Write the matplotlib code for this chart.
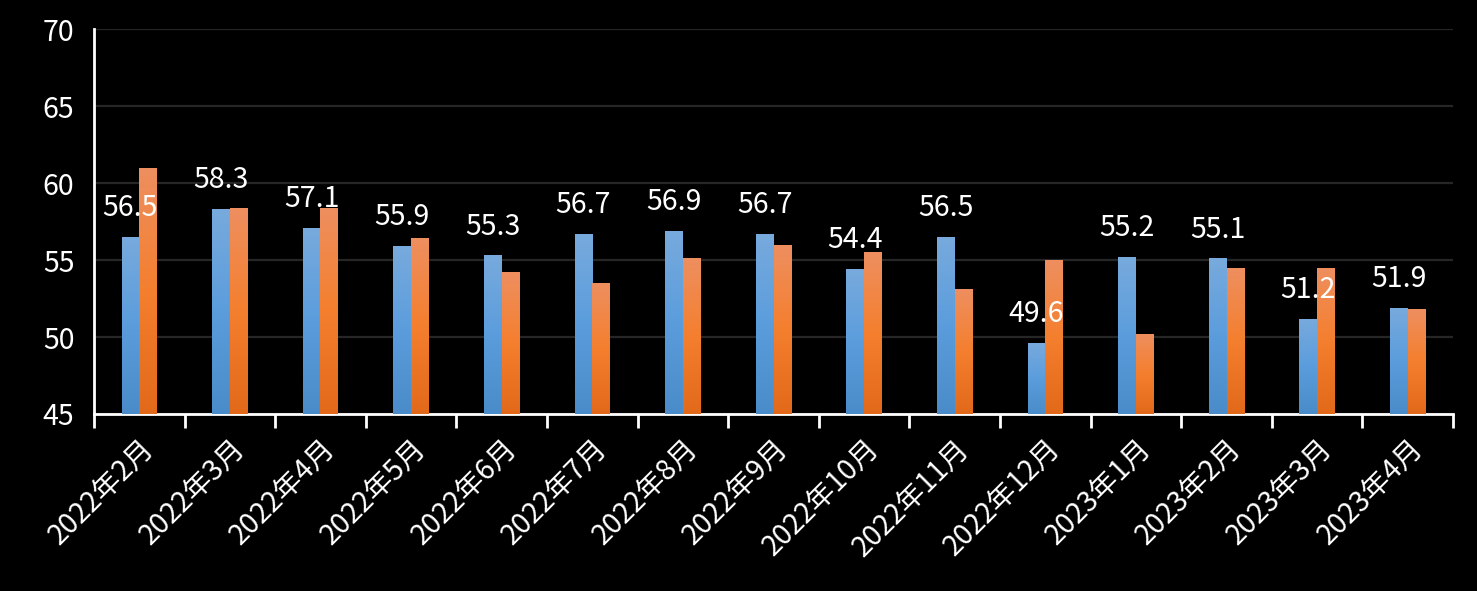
import numpy as np
import matplotlib
matplotlib.use('Agg')
import matplotlib.pyplot as plt
from matplotlib.colors import LinearSegmentedColormap

plt.rcParams['font.family'] = ['Noto Sans CJK TC', 'DejaVu Sans']

months = ['2022年2月', '2022年3月', '2022年4月', '2022年5月', '2022年6月',
          '2022年7月', '2022年8月', '2022年9月', '2022年10月', '2022年11月',
          '2022年12月', '2023年1月', '2023年2月', '2023年3月', '2023年4月']
blue_vals = [56.5, 58.3, 57.1, 55.9, 55.3, 56.7, 56.9, 56.7, 54.4, 56.5,
             49.6, 55.2, 55.1, 51.2, 51.9]
orange_vals = [61.0, 58.4, 58.4, 56.4, 54.2, 53.5, 55.1, 56.0, 55.5, 53.1,
               55.0, 50.2, 54.5, 54.5, 51.8]

ymin, ymax = 45, 70

fig = plt.figure(figsize=(14.77, 5.91), dpi=100, facecolor='black')
ax = fig.add_axes([0.0636, 0.2995, 0.9202, 0.6514])
ax.set_facecolor('black')

x = np.arange(len(months))
w = 0.195

blue_cmap = LinearSegmentedColormap.from_list('b', ['#4a8bc9', '#5b9ddc', '#78aadd'])
orange_cmap = LinearSegmentedColormap.from_list('o', ['#e2691a', '#f47f2e', '#ee8f60'])
grad = np.linspace(0, 1, 256).reshape(-1, 1)


def gradient_bars(xpos, vals, cmap):
    bars = ax.bar(xpos, np.array(vals) - ymin, w, bottom=ymin, color='none',
                  edgecolor='none', zorder=3)
    for b in bars:
        x0 = b.get_x()
        top = b.get_y() + b.get_height()
        im = ax.imshow(grad, cmap=cmap, aspect='auto', origin='lower',
                       extent=[x0, x0 + b.get_width(), ymin, top],
                       zorder=3)
        im.set_clip_path(b)
    return bars


gradient_bars(x - w / 2, blue_vals, blue_cmap)
gradient_bars(x + w / 2, orange_vals, orange_cmap)

for xi, v in zip(x, blue_vals):
    ax.annotate(f'{v:.1f}', (xi - w / 2, v), xytext=(0, 15),
                textcoords='offset points', ha='center', va='baseline',
                color='white', fontsize=20.5, zorder=5)

ax.set_xlim(-0.5, len(months) - 0.5)
ax.set_ylim(ymin, ymax)
ax.set_yticks(range(45, 71, 5))
ax.yaxis.grid(True, color='#262626', linewidth=1.6, zorder=0)
ax.set_axisbelow(True)

ax.set_xticks(np.arange(-0.5, len(months), 1))
ax.set_xticklabels([])
ax.set_xticks(x, minor=True)
ax.set_xticklabels(months, minor=True, rotation=45, ha='right',
                   rotation_mode='anchor', color='white', fontsize=20.5)
ax.tick_params(axis='x', which='major', length=10, width=2, color='white',
               direction='out')
ax.tick_params(axis='x', which='minor', length=0, pad=14)
ax.tick_params(axis='y', length=0, pad=14, labelcolor='white', labelsize=20.5)

for s in ['top', 'right']:
    ax.spines[s].set_visible(False)
for s in ['left', 'bottom']:
    ax.spines[s].set_color('white')
    ax.spines[s].set_linewidth(2)

fig.savefig('out.png', dpi=100, facecolor='black')
